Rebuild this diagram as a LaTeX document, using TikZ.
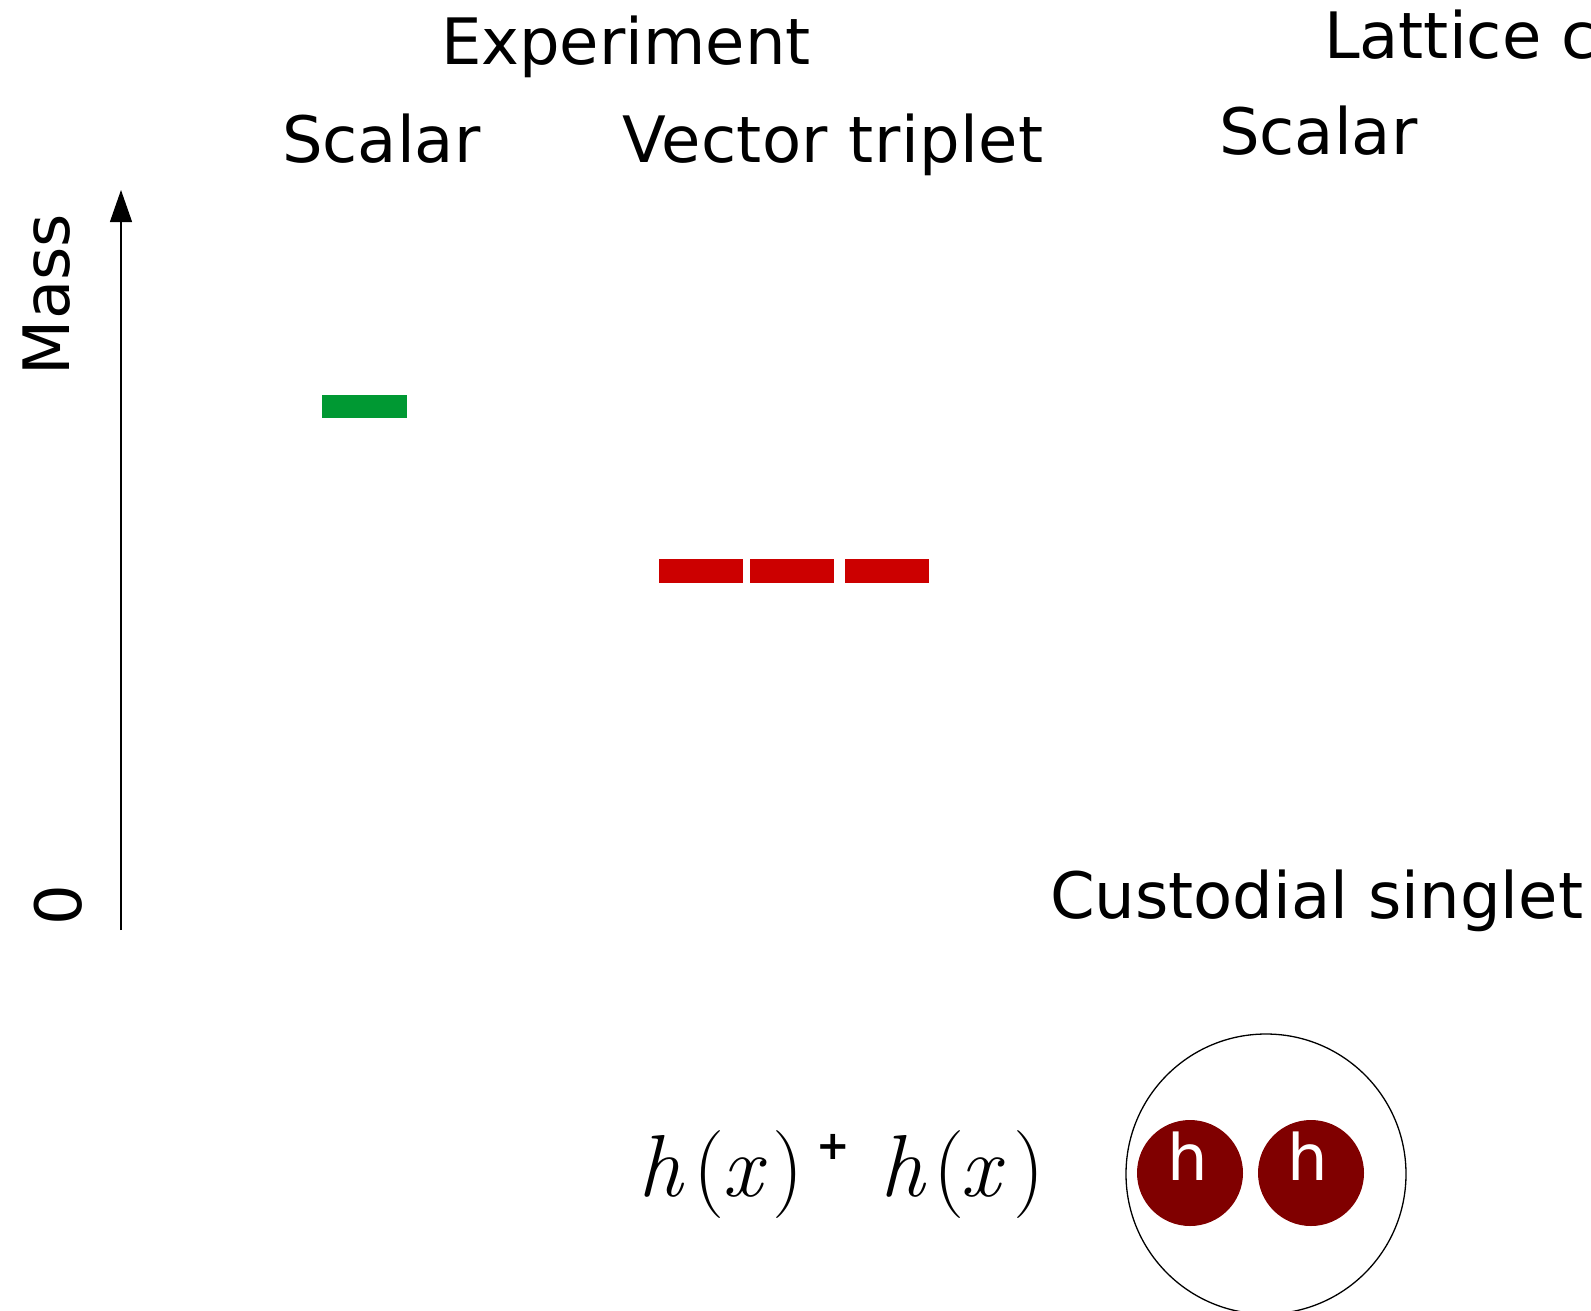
\documentclass[tikz,border=0pt]{standalone}
\usepackage{fontspec}
\setmainfont{DejaVu Sans}
\newfontfamily\lmr{Latin Modern Roman}
\newfontfamily\djv{DejaVu Sans}
\usetikzlibrary{arrows.meta}
\definecolor{levgreen}{RGB}{0,153,51}
\definecolor{levred}{RGB}{204,0,0}
\definecolor{hred}{RGB}{128,0,0}
\newcommand{\gl}[2]{\makebox[#1pt][l]{#2}}
\tikzset{
  lbl/.style={inner sep=0pt, outer sep=0pt, font=\fontsize{64}{76}\selectfont},
  bar/.style={rectangle, inner sep=0pt, draw=none, minimum height=24pt},
  hball/.style={circle, fill=hred, draw=none, inner sep=0pt, minimum size=106pt},
  hlbl/.style={lbl, text=white, anchor=base},
}
\begin{document}
\begin{tikzpicture}[x=1pt,y=-1pt]
\useasboundingbox (0,0) rectangle (1591,1310);
% titles
\node[lbl, anchor=base west] (exp) at (441,64) {Experiment};
\node[lbl, anchor=base west] (lat) at (1324,58) {Lattice c};
\node[lbl, anchor=base west] (scl) at (282,162) {Scalar};
\node[lbl, anchor=base west] (vec) at (622,162) {\addfontfeature{LetterSpace=0.7}Vector triplet};
\node[lbl, anchor=base west] (scr) at (1219,154) {Scalar};
\node[lbl, anchor=base west] (cus) at (1050,918) {Custodial singlet};
% axis
\coordinate (axbot) at (121,930);
\coordinate (axtop) at (121,190);
\draw[line width=1.3pt, -{Triangle[width=22pt,length=32pt]}] (axbot) -- (axtop);
\node[lbl, anchor=base west, rotate=90] (mass) at (69,375) {Mass};
\node[lbl, anchor=base west, rotate=90] (zero) at (81,925) {0};
% levels
\node[bar, fill=levgreen, minimum width=85pt, minimum height=23pt] (g1) at (364.5,406.5) {};
\node[bar, fill=levred, minimum width=84pt] (r1) at (701,571) {};
\node[bar, fill=levred, minimum width=84pt] (r2) at (792,571) {};
\node[bar, fill=levred, minimum width=84pt] (r3) at (887,571) {};
% formula
\node[inner sep=0pt, anchor=base west, font=\lmr\fontsize{88}{100}\selectfont] (form) at (638,1196)
  {\gl{55}{\itshape h}\gl{29}{(}\gl{50}{\itshape x}\gl{44}{)}\gl{64}{\raisebox{37pt}{\djv\bfseries\fontsize{40}{44}\selectfont +}}\gl{53}{\itshape h}\gl{27}{(}\gl{53}{\itshape x}\gl{20}{)}};
% bound state
\node[circle, draw=black, line width=1.3pt, inner sep=0pt, minimum size=280pt] (big) at (1266,1174) {};
\node[hball] (b1) at (1190,1173) {};
\node[hball] (b2) at (1311,1173) {};
\node[hlbl] (h1) at (1188,1180) {h};
\node[hlbl] (h2) at (1308,1180) {h};
\end{tikzpicture}
\end{document}
